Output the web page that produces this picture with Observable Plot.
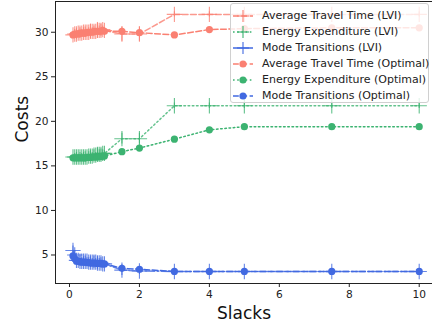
<!DOCTYPE html>
<html>
<head>
<meta charset="utf-8">
<script src="https://cdn.jsdelivr.net/npm/d3@7"></script>
<script src="https://cdn.jsdelivr.net/npm/@observablehq/plot@0.6"></script>
<style>
  html, body { margin: 0; padding: 0; background: #fff; }
  #wrap { position: relative; width: 432px; height: 326px; font-family: "DejaVu Sans", sans-serif; }
  #legend { position: absolute; left: 230px; top: 3px; width: 199px; height: 100px;
    background: rgba(255,255,255,0.8); border: 1px solid #d0d0d0; border-radius: 3px; box-sizing: border-box; }
  .row { position: absolute; left: 0; height: 16px; font-size: 11px; color: #222; white-space: nowrap; }
  .row svg { position: absolute; left: 1px; top: 0; }
  .row span { position: absolute; left: 31px; top: 1px; line-height: 14px; }
</style>
</head>
<body>
<div id="wrap"></div>
<script>
// ---- data ----
const slacks = [0.1,0.15,0.2,0.25,0.3,0.35,0.4,0.45,0.5,0.55,0.6,0.65,0.7,0.75,0.8,0.85,0.9,0.95,1.0,1.5,2,3,4,5,7.5,10];

const travelLvi    = [29.7,29.8,29.8,29.9,29.9,29.9,30.0,30.0,30.0,30.0,30.1,30.1,30.1,30.1,30.2,30.2,30.2,30.3,30.2,29.8,29.8,32.0,32.0,32.0,32.0,32.0];
const travelLviErr = [0.2,0.5,0.6,0.3,0.6,0.4,0.5,0.6,0.3,0.5,0.8,0.4,0.6,0.3,0.9,0.5,0.7,0.4,0.3,0.8,0.8,0.3,0.3,0.3,0.3,0.3];
const energyLvi    = [16.0,16.0,16.0,16.0,16.0,16.0,16.0,16.0,16.0,16.1,16.1,16.1,16.2,16.2,16.3,16.3,16.3,16.4,16.4,18.05,18.05,21.75,21.75,21.75,21.75,21.75];
const energyLviErr = [0.2,0.4,0.5,0.3,0.5,0.4,0.5,0.6,0.3,0.5,0.6,0.4,0.6,0.3,0.7,0.5,0.6,0.4,0.3,0.6,0.6,0.3,0.3,0.3,0.3,0.3];
const modeLvi      = [5.5,5.0,4.4,4.4,4.3,4.3,4.3,4.3,4.3,4.2,4.2,4.2,4.2,4.2,4.1,4.1,4.1,4.0,4.0,3.3,3.2,3.15,3.15,3.15,3.15,3.15];
const modeLviErr   = [0.5,0.5,0.4,0.3,0.6,0.4,0.5,0.6,0.4,0.5,0.6,0.4,0.7,0.4,0.7,0.5,0.6,0.4,0.3,0.6,0.4,0.3,0.3,0.3,0.3,0.3];

const travelOpt = [29.7,29.8,29.8,29.8,29.9,29.9,29.9,29.9,30.0,30.0,30.0,30.0,30.1,30.1,30.1,30.1,30.1,30.2,30.1,30.1,29.95,29.7,30.3,30.4,30.5,30.5];
const energyOpt = [15.9,15.9,15.9,15.9,15.9,15.9,15.9,15.9,15.95,15.95,15.95,16.0,16.0,16.0,16.0,16.05,16.05,16.1,16.1,16.6,17.0,18.0,19.05,19.4,19.4,19.4];
const modeOpt   = [4.9,4.6,4.3,4.3,4.25,4.2,4.2,4.2,4.15,4.15,4.1,4.1,4.1,4.1,4.05,4.05,4.05,4.0,4.0,3.5,3.4,3.15,3.15,3.15,3.15,3.15];

const xTicks = [0,2,4,6,8,10];
const yTicks = [5,10,15,20,25,30];
const labels = ["Average Travel Time (LVI)","Energy Expenditure (LVI)","Mode Transitions (LVI)",
                "Average Travel Time (Optimal)","Energy Expenditure (Optimal)","Mode Transitions (Optimal)"];

// ---- styles ----
const cRed = "#fa8072", cGreen = "#3cb371", cBlue = "#4169e1";
const DASH = "5.8,2.5", DOT = "1.6,2.6", DASHDOT = "9.6,2.5,1.6,2.5";

const rows = (vals, errs) => slacks.map((s, i) => ({x: s, y: vals[i], e: errs ? errs[i] : 0}));

function lviMarks(vals, errs, color, dash) {
  const d = rows(vals, errs);
  return [
    Plot.line(d, {x: "x", y: "y", stroke: color, strokeWidth: 1.5, strokeDasharray: dash, strokeOpacity: 0.8}),
    Plot.ruleX(d, {x: "x", y1: d => d.y - d.e, y2: d => d.y + d.e, stroke: color, strokeWidth: 1.1, strokeOpacity: 0.8}),
    Plot.dot(d, {x: "x", y: "y", symbol: "plus", r: 5, stroke: color, strokeWidth: 1.1, strokeOpacity: 0.8})
  ];
}
function optMarks(vals, color, dash) {
  const d = rows(vals);
  return [
    Plot.line(d, {x: "x", y: "y", stroke: color, strokeWidth: 1.5, strokeDasharray: dash}),
    Plot.dot(d, {x: "x", y: "y", r: 3.6, fill: color, stroke: "none"})
  ];
}

const chart = Plot.plot({
  width: 432,
  height: 326,
  marginLeft: 55,
  marginRight: 0,
  marginTop: 1,
  marginBottom: 43,
  style: {fontFamily: "DejaVu Sans, sans-serif", fontSize: "10.4px", color: "#222", background: "white"},
  x: {domain: [-0.4, 10.38]},
  y: {domain: [1.8, 33.45]},
  marks: [
    ...lviMarks(travelLvi, travelLviErr, cRed, DASH),
    ...lviMarks(energyLvi, energyLviErr, cGreen, DOT),
    ...lviMarks(modeLvi, modeLviErr, cBlue, DASHDOT),
    ...optMarks(travelOpt, cRed, DASH),
    ...optMarks(energyOpt, cGreen, DOT),
    ...optMarks(modeOpt, cBlue, DASH),
    Plot.frame({stroke: "#222", strokeWidth: 1}),
    Plot.axisX({ticks: xTicks, tickSize: 4, tickPadding: 3, label: null, fontSize: 10.6}),
    Plot.axisY({ticks: yTicks, tickSize: 4, tickPadding: 3, label: null, fontSize: 10.6}),
    Plot.text(["Slacks"], {frameAnchor: "bottom", dy: 30, fontSize: 17, lineAnchor: "middle", fill: "#111"}),
    Plot.text(["Costs"], {frameAnchor: "left", dx: -33, rotate: -90, fontSize: 17, lineAnchor: "middle", fill: "#111"})
  ]
});

const wrap = document.getElementById("wrap");
wrap.appendChild(chart);

// ---- legend (inside plot, top-right) ----
const legend = document.createElement("div");
legend.id = "legend";
const specs = [
  {color: cRed, dash: DASH, mark: "plus"}, {color: cGreen, dash: DOT, mark: "plus"}, {color: cBlue, dash: "none", mark: "plus"},
  {color: cRed, dash: DASH, mark: "dot"}, {color: cGreen, dash: DOT, mark: "dot"}, {color: cBlue, dash: DASH, mark: "dot"}
];
specs.forEach((s, i) => {
  const row = document.createElement("div");
  row.className = "row";
  row.style.top = (4 + i * 16) + "px";
  const mk = s.mark === "plus"
    ? `<line x1="11" x2="11" y1="2" y2="14" stroke="${s.color}" stroke-width="1.1"/><line x1="5" x2="17" y1="8" y2="8" stroke="${s.color}" stroke-width="1.1"/>`
    : `<circle cx="11" cy="8" r="3.6" fill="${s.color}"/>`;
  row.innerHTML = `<svg width="24" height="16"><line x1="1" x2="21" y1="8" y2="8" stroke="${s.color}" stroke-width="1.5" ${s.dash !== "none" ? `stroke-dasharray="${s.dash}"` : ""}/>${mk}</svg><span>${labels[i]}</span>`;
  legend.appendChild(row);
});
wrap.appendChild(legend);
</script>
</body>
</html>
